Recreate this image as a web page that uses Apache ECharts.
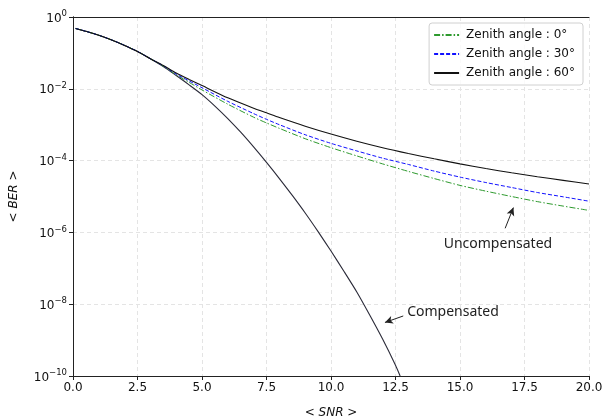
<!DOCTYPE html>
<html>
<head>
<meta charset="utf-8">
<script src="https://cdn.jsdelivr.net/npm/echarts@6/dist/echarts.min.js"></script>
<style>html,body{margin:0;padding:0;background:#fff;}#c{width:606px;height:419px;}</style>
</head>
<body>
<div id="c"></div>
<script>
const snr = [0.1,0.5,1,1.5,2,2.5,3,3.5,4,4.5,5,6,7,7.5,8,9,10,11,12,13,14,15,16,17,18,19,20];
const ber0 = [4.8e-1,4.0e-1,3.1e-1,2.29e-1,1.62e-1,1.10e-1,6.9e-2,4.27e-2,2.45e-2,1.51e-2,9.3e-3,3.72e-3,1.62e-3,1.12e-3,7.9e-4,4.07e-4,2.29e-4,1.35e-4,8.1e-5,5.0e-5,3.16e-5,2.04e-5,1.41e-5,1.0e-5,7.2e-6,5.4e-6,4.1e-6];
const ber30 = [4.8e-1,4.0e-1,3.1e-1,2.29e-1,1.62e-1,1.10e-1,6.9e-2,4.37e-2,2.57e-2,1.66e-2,1.07e-2,4.47e-3,2.04e-3,1.41e-3,1.0e-3,5.25e-4,3.02e-4,1.86e-4,1.17e-4,7.8e-5,5.1e-5,3.47e-5,2.45e-5,1.78e-5,1.29e-5,9.8e-6,7.4e-6];
const ber60 = [4.8e-1,4.0e-1,3.1e-1,2.29e-1,1.62e-1,1.10e-1,6.9e-2,4.47e-2,2.75e-2,1.82e-2,1.23e-2,5.6e-3,2.88e-3,2.14e-3,1.58e-3,9.1e-4,5.5e-4,3.47e-4,2.29e-4,1.58e-4,1.12e-4,8.1e-5,6.0e-5,4.57e-5,3.55e-5,2.82e-5,2.24e-5];
const snrComp = [0.1,0.5,1,1.5,2,2.5,3,3.5,4,4.5,5,5.5,6,6.5,7,7.5,8,8.5,9,9.5,10,10.5,11,11.5,12,12.5,12.68];
const berComp = [4.8e-1,4.0e-1,3.1e-1,2.29e-1,1.62e-1,1.10e-1,6.9e-2,4.17e-2,2.34e-2,1.29e-2,6.9e-3,3.31e-3,1.48e-3,6.17e-4,2.40e-4,8.9e-5,3.16e-5,1.07e-5,3.47e-6,1.05e-6,3.02e-7,8.3e-8,2.19e-8,5.0e-9,1.07e-9,2.0e-10,1.0e-10];
const legendNames = ['Zenith angle : 0°','Zenith angle : 30°','Zenith angle : 60°'];
const annoUncompText = ['Uncompensated', 16.47, 4.8e-7];
const annoUncompArrow = [[16.75, 1.3e-6],[17.07, 4.9e-6]];
const annoCompText = ['Compensated', 14.73, 6.0e-9];
const annoCompArrow = [[12.8, 4.7e-9],[12.09, 3.1e-9]];

const pairs = (xs, ys) => xs.map((x, i) => [x, ys[i]]);
const chart = echarts.init(document.getElementById('c'), null, {renderer: 'canvas'});
const tickFont = 'DejaVu Sans';
const frameAxis = {show: true, axisLine: {show: true, lineStyle: {color: '#222', width: 1}}, axisTick: {show: false}, axisLabel: {show: false}, splitLine: {show: false}};
chart.setOption({
  animation: false,
  backgroundColor: '#fff',
  grid: {left: 73, right: 17, top: 17, bottom: 43, outerBoundsMode: 'none', containLabel: false},
  legend: {
    data: legendNames,
    orient: 'vertical',
    right: 23, top: 23,
    itemWidth: 25, itemHeight: 12, itemGap: 7,
    padding: [6, 8, 6, 4],
    borderColor: '#d0d0d0', borderWidth: 1, borderRadius: 3,
    backgroundColor: 'rgba(255,255,255,0.8)',
    itemStyle: {opacity: 0},
    textStyle: {fontFamily: tickFont, fontSize: 12, color: '#111', padding: [0,0,0,2]}
  },
  xAxis: [{
    type: 'value', min: 0, max: 20, interval: 2.5,
    name: '< {i|SNR} >', nameLocation: 'middle', nameGap: 31,
    nameTextStyle: {fontFamily: tickFont, fontSize: 12, color: '#111', rich: {i: {fontStyle: 'italic', fontFamily: tickFont, fontSize: 12, color: '#111'}}},
    axisLine: {show: true, lineStyle: {color: '#222'}},
    axisTick: {show: true, length: 4, lineStyle: {color: '#222'}},
    axisLabel: {fontFamily: tickFont, fontSize: 12, color: '#111', margin: 6, formatter: v => v.toFixed(1)},
    splitLine: {show: true, lineStyle: {color: '#e4e4e4', type: [4, 3]}}
  }, Object.assign({type: 'value', min: 0, max: 20, position: 'top'}, frameAxis)],
  yAxis: [{
    type: 'log', logBase: 100, min: 1e-10, max: 1, splitNumber: 5,
    name: '< {i|BER} >', nameLocation: 'middle', nameGap: 53, nameRotate: 90,
    nameTextStyle: {fontFamily: tickFont, fontSize: 12, color: '#111', rich: {i: {fontStyle: 'italic', fontFamily: tickFont, fontSize: 12, color: '#111'}}},
    axisLine: {show: true, lineStyle: {color: '#222'}},
    axisTick: {show: true, length: 4, lineStyle: {color: '#222'}},
    minorTick: {show: false},
    axisLabel: {
      margin: 6,
      formatter: v => { const e = Math.round(Math.log10(v)); return '{b|10}{s|' + (e < 0 ? '\u2212' + (-e) : e) + '}'; },
      rich: {
        b: {fontFamily: tickFont, fontSize: 12, color: '#111', verticalAlign: 'bottom'},
        s: {fontFamily: tickFont, fontSize: 8.5, color: '#111', verticalAlign: 'bottom', padding: [0, 0, 6, 0]}
      }
    },
    splitLine: {show: true, lineStyle: {color: '#e4e4e4', type: [4, 3]}}
  }, Object.assign({type: 'log', logBase: 100, min: 1e-10, max: 1, position: 'right'}, frameAxis)],
  series: [
    {
      name: 'compensated', type: 'line', data: pairs(snrComp, berComp), symbol: 'none', smooth: 0.25, clip: true,
      lineStyle: {color: '#2a2a38', width: 1.1, type: 'solid'}, z: 1,
      markLine: {
        silent: true, symbol: ['none', 'arrow'], symbolSize: [6, 8],
        lineStyle: {color: '#222', width: 1, type: 'solid'}, label: {show: false},
        data: [
          [{coord: annoUncompArrow[0]}, {coord: annoUncompArrow[1]}],
          [{coord: annoCompArrow[0]}, {coord: annoCompArrow[1]}]
        ]
      },
      markPoint: {
        silent: true, symbol: 'circle', symbolSize: 0,
        label: {show: true, position: 'inside', formatter: '{b}', fontFamily: 'Noto Sans', fontSize: 14, color: '#222'},
        data: [
          {name: annoUncompText[0], coord: [annoUncompText[1], annoUncompText[2]]},
          {name: annoCompText[0], coord: [annoCompText[1], annoCompText[2]]}
        ]
      }
    },
    {name: legendNames[0], type: 'line', data: pairs(snr, ber0), symbol: 'none', smooth: 0.25,
     lineStyle: {color: '#2e9a2e', width: 1, type: [6, 2, 1.5, 2]}, itemStyle: {color: '#2e9a2e'}, z: 2},
    {name: legendNames[1], type: 'line', data: pairs(snr, ber30), symbol: 'none', smooth: 0.25,
     lineStyle: {color: '#1010ff', width: 1, type: [4, 2]}, itemStyle: {color: '#1010ff'}, z: 3},
    {name: legendNames[2], type: 'line', data: pairs(snr, ber60), symbol: 'none', smooth: 0.25,
     lineStyle: {color: '#111', width: 1.1, type: 'solid'}, itemStyle: {color: '#111'}, z: 4}
  ]
});
</script>
</body>
</html>
